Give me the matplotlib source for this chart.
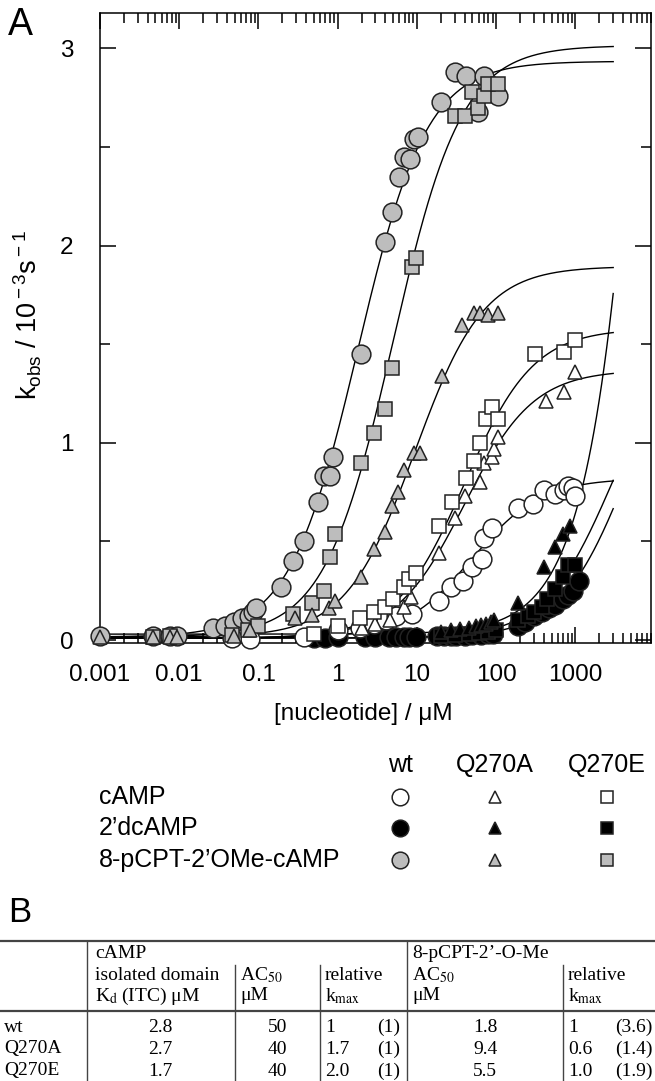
import matplotlib
matplotlib.use('Agg')
import matplotlib.pyplot as plt
from matplotlib.lines import Line2D
import numpy as np

#=====================================================================
#     Fonts
#
plt.rcParams['font.family'] = ['Liberation Sans', 'DejaVu Sans']
plt.rcParams['mathtext.fontset'] = 'custom'
plt.rcParams['mathtext.rm'] = 'Liberation Sans'
plt.rcParams['mathtext.it'] = 'Liberation Sans:italic'
plt.rcParams['mathtext.default'] = 'regular'

#=====================================================================
#     Data (kobs in 1e-3 s^-1 vs nucleotide concentration in uM)
#
# 8-pCPT-2'OMe-cAMP
wt_8p_x = [0.001, 0.0046, 0.0076, 0.0095, 0.027, 0.038, 0.049, 0.062, 0.075, 0.085, 0.092,
           0.19, 0.27, 0.38, 0.57, 0.68, 0.81, 0.86, 1.95, 3.9, 4.9, 6.0, 6.8, 8.1, 9.1,
           10.2, 20, 30, 42, 59, 70, 93, 105]
wt_8p_y = [0.02, 0.02, 0.02, 0.02, 0.06, 0.07, 0.09, 0.11, 0.12, 0.14, 0.16,
           0.27, 0.40, 0.50, 0.70, 0.83, 0.83, 0.93, 1.45, 2.02, 2.17, 2.35, 2.45, 2.44, 2.54,
           2.55, 2.73, 2.88, 2.86, 2.68, 2.86, 2.78, 2.76]

q270e_8p_x = [0.0046, 0.0076, 0.046, 0.074, 0.098, 0.27, 0.47, 0.67, 0.81, 0.93, 1.95, 2.9,
              3.9, 4.9, 8.6, 9.6, 30, 40, 50, 59, 70, 79, 105]
q270e_8p_y = [0.015, 0.02, 0.025, 0.05, 0.07, 0.13, 0.19, 0.25, 0.42, 0.54, 0.90, 1.05,
              1.17, 1.38, 1.89, 1.94, 2.66, 2.66, 2.78, 2.70, 2.76, 2.82, 2.82]

q270a_8p_x = [0.001, 0.0046, 0.0076, 0.0095, 0.049, 0.078, 0.29, 0.47, 0.78, 0.93, 1.95, 2.9,
              3.9, 4.9, 5.8, 6.8, 9.1, 10.8, 21, 37, 53, 62, 79, 105]
q270a_8p_y = [0.015, 0.015, 0.015, 0.015, 0.02, 0.05, 0.11, 0.125, 0.16, 0.20, 0.32, 0.46,
              0.55, 0.68, 0.75, 0.86, 0.95, 0.95, 1.34, 1.60, 1.66, 1.66, 1.65, 1.66]

# cAMP
wt_c_x = [0.047, 0.078, 0.38, 1.0, 1.93, 2.9, 4.1, 5.5, 8.6, 19, 27, 38, 50, 66, 71, 88,
          190, 290, 400, 560, 710, 800, 940, 1000]
wt_c_y = [0.01, 0.005, 0.015, 0.05, 0.06, 0.08, 0.10, 0.12, 0.13, 0.20, 0.27, 0.30, 0.37, 0.41,
          0.52, 0.57, 0.67, 0.69, 0.76, 0.74, 0.76, 0.78, 0.77, 0.73]

q270e_c_x = [0.5, 1.0, 1.93, 2.9, 4.0, 5.0, 6.9, 7.9, 9.8, 19, 28, 42, 53, 62, 74, 88, 105,
             305, 710, 1000]
q270e_c_y = [0.03, 0.07, 0.11, 0.14, 0.17, 0.21, 0.27, 0.31, 0.34, 0.58, 0.70, 0.82, 0.91,
             1.00, 1.12, 1.18, 1.12, 1.45, 1.46, 1.52]

q270a_c_x = [2.0, 3.0, 4.6, 6.8, 8.5, 19, 30, 40, 62, 70, 88, 93, 105, 430, 710, 1000]
q270a_c_y = [0.06, 0.08, 0.10, 0.17, 0.22, 0.44, 0.62, 0.73, 0.80, 0.90, 0.93, 0.97, 1.03,
             1.21, 1.26, 1.36]

# 2'dcAMP
wt_d_x = [0.5, 0.7, 1.0, 2.2, 3.0, 4.4, 5.5, 6.9, 8.0, 9.8, 18, 22, 27, 31, 40, 50, 65, 80,
          92, 190, 230, 300, 380, 470, 560, 700, 800, 930, 1100]
wt_d_y = [0.01, 0.01, 0.015, 0.015, 0.015, 0.015, 0.015, 0.015, 0.015, 0.015, 0.02, 0.02,
          0.02, 0.02, 0.02, 0.025, 0.025, 0.03, 0.03, 0.07, 0.09, 0.12, 0.14, 0.16, 0.18,
          0.21, 0.23, 0.25, 0.30]

q270e_d_x = [20, 30, 45, 60, 80, 100, 190, 250, 300, 380, 440, 560, 700, 800, 1000]
q270e_d_y = [0.02, 0.025, 0.03, 0.035, 0.04, 0.05, 0.10, 0.12, 0.14, 0.17, 0.21, 0.26, 0.32,
             0.38, 0.38]

q270a_d_x = [20, 27, 35, 45, 55, 65, 75, 85, 95, 190, 400, 560, 700, 850]
q270a_d_y = [0.04, 0.05, 0.055, 0.06, 0.07, 0.075, 0.08, 0.09, 0.10, 0.19, 0.37, 0.47, 0.54,
             0.58]

# fitted curves: baseline, kmax, half-activation, Hill coefficient
fit_wt_8p = [0.015, 2.92, 1.8, 1.0]
fit_q270e_8p = [0.015, 3.0, 5.0, 1.0]
fit_q270a_8p = [0.015, 1.88, 9.4, 1.0]
fit_wt_c = [0.01, 0.81, 50, 1.0]
fit_q270a_c = [0.01, 1.36, 40, 1.0]
fit_q270e_c = [0.01, 1.57, 40, 1.0]
fit_q270a_d = [0.03, 19.0, 30000, 1.0]
fit_q270e_d = [0.01, 1.6, 3000, 1.0]
fit_wt_d = [0.01, 1.75, 5000, 1.0]

xtick_vals = [0.001, 0.01, 0.1, 1, 10, 100, 1000]
xtick_labels = ['0.001', '0.01', '0.1', '1', '10', '100', '1000']

# legend
legend_cols = ['wt', 'Q270A', 'Q270E']
legend_rows = ['cAMP', '2\u2019dcAMP', '8-pCPT-2\u2019OMe-cAMP']

# table
tab_proteins = ['wt', 'Q270A', 'Q270E']
tab_kd = ['2.8', '2.7', '1.7']
tab_ac50_c = ['50', '40', '40']
tab_kmax_c = ['1', '1.7', '2.0']
tab_kmax_c_rel = ['(1)', '(1)', '(1)']
tab_ac50_8p = ['1.8', '9.4', '5.5']
tab_kmax_8p = ['1', '0.6', '1.0']
tab_kmax_8p_rel = ['(3.6)', '(1.4)', '(1.9)']

#=====================================================================
#     Plotting
#
W, H = 655, 1081
def fx(x):
    return x / W
def fy(y):
    return 1 - y / H

fig = plt.figure(figsize=(W / 100, H / 100), dpi=100)
ax = fig.add_axes([fx(100), fy(643), fx(651) - fx(100), fy(13) - fy(643)])

gray = '#bdbdbd'
edge = '#222222'

def hill(p, x):
    return p[0] + p[1] * x**p[3] / (x**p[3] + p[2]**p[3])

xs = np.logspace(-3, np.log10(3000), 400)
for p in [fit_wt_8p, fit_q270e_8p, fit_q270a_8p, fit_wt_c, fit_q270a_c, fit_q270e_c,
          fit_q270a_d, fit_q270e_d, fit_wt_d]:
    ax.plot(xs, hill(p, xs), color='k', lw=1.0, zorder=2)

series = [
    (wt_d_x, wt_d_y, 'o', 'k', 13.5),
    (q270e_d_x, q270e_d_y, 's', 'k', 10.5),
    (q270a_d_x, q270a_d_y, '^', 'k', 10),
    (wt_c_x, wt_c_y, 'o', 'white', 13.5),
    (q270a_c_x, q270a_c_y, '^', 'white', 10),
    (q270e_c_x, q270e_c_y, 's', 'white', 10.5),
    (wt_8p_x, wt_8p_y, 'o', gray, 13.5),
    (q270e_8p_x, q270e_8p_y, 's', gray, 10.5),
    (q270a_8p_x, q270a_8p_y, '^', gray, 10),
]
for x, y, m, c, ms in series:
    ax.plot(x, y, ls='none', marker=m, ms=ms, mfc=c, mec=edge, mew=1.1,
            clip_on=False, zorder=3)

ax.set_xscale('log')
ax.set_xlim(0.001, 3000)
ax.set_ylim(-0.015, 3.18)
ax.set_xticks(xtick_vals, xtick_labels)
ax.set_xticks([m * 10.0**e for e in range(-3, 4) for m in range(2, 10)], minor=True)
ax.set_yticks([0, 1, 2, 3])
ax.set_yticks([0.5, 1.5, 2.5], minor=True)
ax.tick_params(which='both', direction='in', top=True, right=True, width=1.1,
               labelsize=17.5)
ax.tick_params(which='major', length=11.5)
ax.tick_params(which='minor', length=7)
ax.tick_params(axis='x', pad=15)
ax.tick_params(axis='y', pad=19)
for s in ax.spines.values():
    s.set_linewidth(1.1)

ax.set_ylabel(r'k$_{\rm obs}$ / 10$^{\rm -3}$s$^{\rm -1}$', fontsize=19.5)
ax.yaxis.set_label_coords(-0.102, 0.52)
ax.set_xlabel('[nucleotide] / \u03bcM', fontsize=17.5)
ax.xaxis.set_label_coords(0.478, -0.113)
ax.xaxis.label.set_va('center')

fig.text(fx(8), fy(25), 'A', fontsize=27, va='center', ha='left')
fig.text(fx(8), fy(913), 'B', fontsize=25, va='center', ha='left')

# legend block
col_x = [400, 495, 607]
row_y = [797, 828, 860]
for cx, name in zip(col_x, legend_cols):
    fig.text(fx(cx), fy(765), name, fontsize=18, ha='center', va='center')
for ry, name in zip(row_y, legend_rows):
    fig.text(fx(99), fy(ry), name, fontsize=18, ha='left', va='center')
leg_fill = ['white', 'k', gray]
leg_mark = ['o', '^', 's']
leg_size = [12, 9, 9]
for ri, ry in enumerate(row_y):
    for ci, cx in enumerate(col_x):
        fig.add_artist(Line2D([fx(cx)], [fy(ry)], transform=fig.transFigure, ls='none',
                              marker=leg_mark[ci], ms=leg_size[ci], mfc=leg_fill[ri],
                              mec=edge, mew=1.1))

# table
rule = '#444444'
def hline(y, x0=0, x1=W, lw=1.0):
    fig.add_artist(Line2D([fx(x0), fx(x1)], [fy(y), fy(y)], transform=fig.transFigure,
                          color=rule, lw=lw))
def vline(x, y0, y1=H, lw=1.0):
    fig.add_artist(Line2D([fx(x), fx(x)], [fy(y0), fy(y1)], transform=fig.transFigure,
                          color=rule, lw=lw))

hline(941, lw=1.6)
hline(1011, lw=1.6)
vline(87, 941)
vline(407, 941)
for x in [235, 320, 563]:
    vline(x, 965)

tfs = 14
def ttext(x, y, s, ha='left'):
    fig.text(fx(x), fy(y), s, fontsize=tfs, ha=ha, va='center',
             family=['Liberation Serif', 'DejaVu Serif'], math_fontfamily='stix')

ttext(95, 953, 'cAMP')
ttext(95, 975, 'isolated domain')
ttext(95, 996, 'K$_{\\rm d}$ (ITC) \u03bcM')
ttext(240, 975, r'AC$_{\rm 50}$')
ttext(240, 996, '\u03bcM')
ttext(325, 975, 'relative')
ttext(325, 996, r'k$_{\rm max}$')
ttext(412, 953, '8-pCPT-2\u2019-O-Me')
ttext(412, 975, r'AC$_{\rm 50}$')
ttext(412, 996, '\u03bcM')
ttext(568, 975, 'relative')
ttext(568, 996, r'k$_{\rm max}$')

tab_y = [1027, 1049, 1071]
for i, ty in enumerate(tab_y):
    ttext(4, ty, tab_proteins[i])
    ttext(160, ty, tab_kd[i], ha='center')
    ttext(287, ty, tab_ac50_c[i], ha='right')
    ttext(325, ty, tab_kmax_c[i])
    ttext(400, ty, tab_kmax_c_rel[i], ha='right')
    ttext(485, ty, tab_ac50_8p[i], ha='center')
    ttext(568, ty, tab_kmax_8p[i])
    ttext(653, ty, tab_kmax_8p_rel[i], ha='right')

plt.savefig('out.png', dpi=100)
